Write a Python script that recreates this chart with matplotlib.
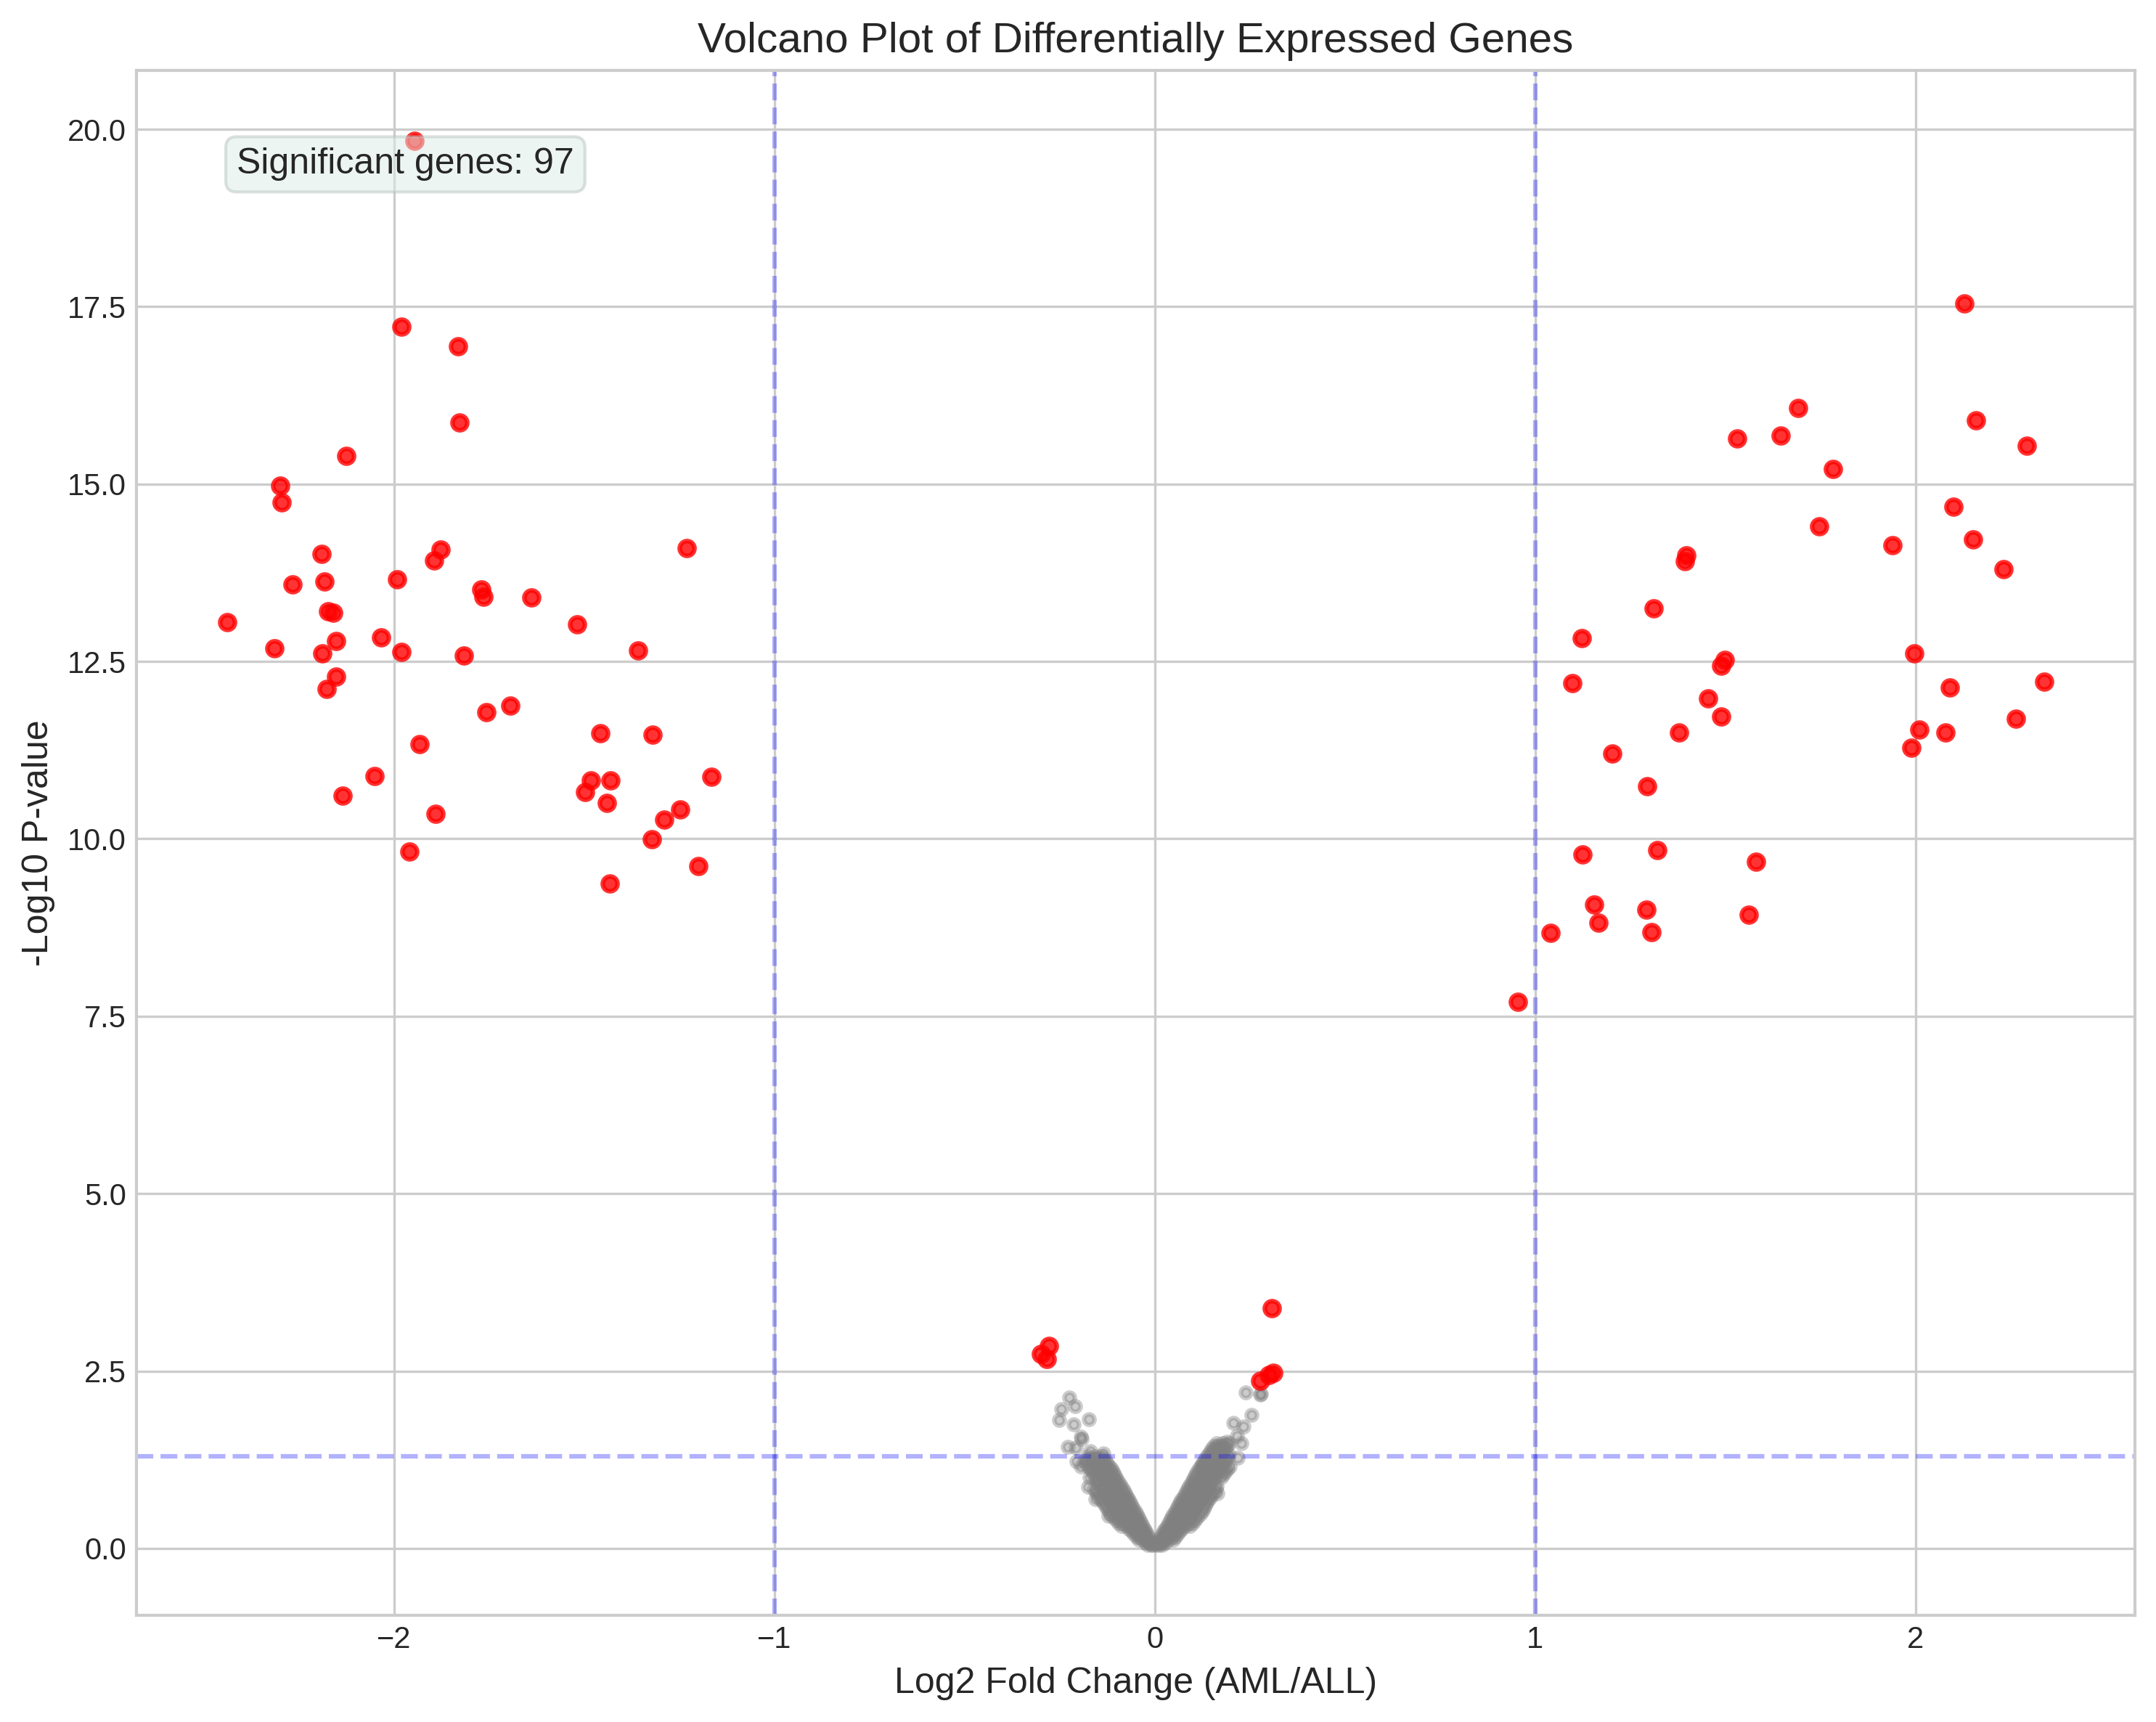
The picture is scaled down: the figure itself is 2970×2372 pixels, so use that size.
#!/usr/bin/env python3
"""Volcano plot of differentially expressed genes (AML vs ALL)."""

import matplotlib
matplotlib.use("Agg")
import numpy as np
import matplotlib.pyplot as plt

# significant genes: (log2 fold change, -log10 p)
sig_left = [
    (-1.947, 19.84), (-1.980, 17.22), (-1.831, 16.94), (-1.829, 15.87), (-2.125, 15.40),
    (-2.299, 14.98), (-2.295, 14.74), (-2.190, 14.02), (-1.877, 14.08), (-1.231, 14.10),
    (-1.894, 13.92), (-1.993, 13.66), (-2.184, 13.63), (-2.268, 13.59), (-1.770, 13.51),
    (-1.766, 13.41), (-1.640, 13.40), (-2.174, 13.21), (-2.161, 13.19), (-2.438, 13.05),
    (-1.519, 13.02), (-2.034, 12.84), (-2.152, 12.79), (-2.314, 12.69), (-1.358, 12.66),
    (-2.188, 12.61), (-1.980, 12.63), (-1.816, 12.58), (-2.153, 12.29), (-2.178, 12.11),
    (-1.694, 11.88), (-1.758, 11.79), (-1.458, 11.49), (-1.320, 11.47), (-1.933, 11.34),
    (-2.052, 10.88), (-1.166, 10.87), (-1.483, 10.82), (-1.431, 10.82), (-1.498, 10.66),
    (-2.136, 10.61), (-1.441, 10.51), (-1.247, 10.41), (-1.290, 10.27), (-1.892, 10.35),
    (-1.322, 9.99), (-1.959, 9.82), (-1.200, 9.62), (-1.433, 9.37),
]
sig_right = [
    (2.128, 17.55), (1.691, 16.07), (1.531, 15.64), (1.645, 15.68), (2.160, 15.90),
    (2.292, 15.54), (1.783, 15.21), (2.101, 14.68), (1.747, 14.40), (1.940, 14.14),
    (2.151, 14.22), (1.398, 14.00), (1.394, 13.91), (2.232, 13.80), (1.311, 13.25),
    (1.122, 12.83), (1.997, 12.61), (1.499, 12.52), (1.489, 12.44), (1.098, 12.19),
    (2.091, 12.13), (2.338, 12.21), (1.455, 11.98), (1.490, 11.72), (2.264, 11.69),
    (2.010, 11.54), (2.079, 11.50), (1.378, 11.50), (1.989, 11.28), (1.203, 11.20),
    (1.295, 10.74), (1.124, 9.78), (1.321, 9.84), (1.581, 9.68), (1.155, 9.07),
    (1.293, 9.00), (1.562, 8.93), (1.166, 8.82), (1.040, 8.68), (1.307, 8.69),
    (0.954, 7.70),
]
sig_center = [
    (-0.278, 2.85), (-0.300, 2.74), (-0.284, 2.67),
    (0.307, 3.39), (0.311, 2.48), (0.301, 2.44), (0.278, 2.36),
]

# non-significant genes (dense V near the origin)
gray_left = [
    (-0.005, 0.05), (-0.010, 0.05), (-0.018, 0.05),
    (-0.008, 0.08), (-0.015, 0.08), (-0.025, 0.08),
    (-0.012, 0.12), (-0.020, 0.12), (-0.030, 0.12), (-0.042, 0.12),
    (-0.016, 0.16), (-0.025, 0.16), (-0.036, 0.16), (-0.048, 0.16),
    (-0.020, 0.20), (-0.030, 0.20), (-0.042, 0.20), (-0.055, 0.20),
    (-0.024, 0.24), (-0.035, 0.24), (-0.047, 0.24), (-0.060, 0.24),
    (-0.028, 0.28), (-0.040, 0.28), (-0.053, 0.28), (-0.068, 0.28),
    (-0.032, 0.32), (-0.045, 0.32), (-0.058, 0.32), (-0.073, 0.32), (-0.088, 0.32),
    (-0.036, 0.36), (-0.050, 0.36), (-0.064, 0.36), (-0.080, 0.36), (-0.095, 0.36),
    (-0.040, 0.40), (-0.054, 0.40), (-0.069, 0.40), (-0.085, 0.40), (-0.100, 0.40),
    (-0.044, 0.44), (-0.058, 0.44), (-0.074, 0.44), (-0.090, 0.44), (-0.108, 0.44),
    (-0.048, 0.48), (-0.062, 0.48), (-0.078, 0.48), (-0.095, 0.48), (-0.114, 0.48),
    (-0.052, 0.52), (-0.066, 0.52), (-0.082, 0.52), (-0.100, 0.52), (-0.120, 0.52),
    (-0.056, 0.56), (-0.070, 0.56), (-0.087, 0.56), (-0.105, 0.56), (-0.125, 0.56),
    (-0.060, 0.60), (-0.075, 0.60), (-0.092, 0.60), (-0.110, 0.60), (-0.130, 0.60),
    (-0.064, 0.64), (-0.079, 0.64), (-0.096, 0.64), (-0.114, 0.64), (-0.135, 0.64),
    (-0.068, 0.68), (-0.084, 0.68), (-0.100, 0.68), (-0.118, 0.68), (-0.140, 0.68),
    (-0.072, 0.72), (-0.088, 0.72), (-0.105, 0.72), (-0.123, 0.72), (-0.145, 0.72),
    (-0.076, 0.76), (-0.092, 0.76), (-0.110, 0.76), (-0.128, 0.76), (-0.150, 0.76),
    (-0.080, 0.80), (-0.096, 0.80), (-0.114, 0.80), (-0.133, 0.80), (-0.155, 0.80),
    (-0.084, 0.84), (-0.100, 0.84), (-0.118, 0.84), (-0.138, 0.84), (-0.160, 0.84),
    (-0.089, 0.88), (-0.105, 0.88), (-0.123, 0.88), (-0.143, 0.88),
    (-0.094, 0.92), (-0.110, 0.92), (-0.128, 0.92), (-0.148, 0.92),
    (-0.098, 0.96), (-0.114, 0.96), (-0.132, 0.96), (-0.152, 0.96),
    (-0.102, 1.00), (-0.118, 1.00), (-0.136, 1.00), (-0.156, 1.00), (-0.172, 1.00),
    (-0.106, 1.04), (-0.122, 1.04), (-0.140, 1.04), (-0.160, 1.04),
    (-0.110, 1.08), (-0.126, 1.08), (-0.144, 1.08), (-0.164, 1.08),
    (-0.115, 1.12), (-0.131, 1.12), (-0.149, 1.12), (-0.170, 1.12),
    (-0.120, 1.16), (-0.136, 1.16), (-0.154, 1.16), (-0.175, 1.16), (-0.195, 1.16),
    (-0.125, 1.20), (-0.141, 1.20), (-0.160, 1.20), (-0.180, 1.20),
    (-0.130, 1.24), (-0.146, 1.24), (-0.165, 1.24), (-0.185, 1.24),
    (-0.135, 1.27), (-0.152, 1.27), (-0.170, 1.27),
    (-0.140, 1.30), (-0.158, 1.30), (-0.176, 1.30),
    (-0.224, 2.13), (-0.245, 1.96), (-0.210, 2.00), (-0.252, 1.81), (-0.214, 1.75),
    (-0.173, 1.82), (-0.194, 1.57), (-0.192, 1.54), (-0.228, 1.43), (-0.208, 1.42),
    (-0.169, 1.37), (-0.135, 1.34), (-0.205, 1.23), (-0.131, 1.14), (-0.109, 0.95),
    (-0.176, 0.87), (-0.157, 0.70), (-0.122, 0.46), (-0.049, 0.39),
]
gray_right = [
    (0.005, 0.05), (0.012, 0.05), (0.020, 0.05),
    (0.008, 0.08), (0.016, 0.08), (0.027, 0.08),
    (0.012, 0.12), (0.022, 0.12), (0.034, 0.12), (0.048, 0.12),
    (0.016, 0.16), (0.027, 0.16), (0.040, 0.16), (0.054, 0.16),
    (0.020, 0.20), (0.032, 0.20), (0.045, 0.20), (0.060, 0.20),
    (0.024, 0.24), (0.037, 0.24), (0.050, 0.24), (0.066, 0.24),
    (0.028, 0.28), (0.042, 0.28), (0.056, 0.28), (0.072, 0.28),
    (0.032, 0.32), (0.046, 0.32), (0.061, 0.32), (0.078, 0.32), (0.092, 0.32),
    (0.036, 0.36), (0.050, 0.36), (0.066, 0.36), (0.084, 0.36), (0.100, 0.36),
    (0.040, 0.40), (0.054, 0.40), (0.070, 0.40), (0.088, 0.40), (0.106, 0.40),
    (0.044, 0.44), (0.058, 0.44), (0.074, 0.44), (0.092, 0.44), (0.112, 0.44),
    (0.049, 0.48), (0.063, 0.48), (0.079, 0.48), (0.097, 0.48), (0.118, 0.48),
    (0.054, 0.52), (0.068, 0.52), (0.084, 0.52), (0.102, 0.52), (0.124, 0.52),
    (0.058, 0.56), (0.072, 0.56), (0.088, 0.56), (0.106, 0.56), (0.128, 0.56),
    (0.062, 0.60), (0.076, 0.60), (0.092, 0.60), (0.110, 0.60), (0.132, 0.60),
    (0.066, 0.64), (0.081, 0.64), (0.097, 0.64), (0.115, 0.64), (0.136, 0.64),
    (0.070, 0.68), (0.086, 0.68), (0.102, 0.68), (0.120, 0.68), (0.140, 0.68),
    (0.074, 0.72), (0.090, 0.72), (0.106, 0.72), (0.124, 0.72), (0.145, 0.72),
    (0.078, 0.76), (0.094, 0.76), (0.110, 0.76), (0.128, 0.76), (0.150, 0.76),
    (0.082, 0.80), (0.098, 0.80), (0.114, 0.80), (0.132, 0.80), (0.155, 0.80),
    (0.086, 0.84), (0.102, 0.84), (0.118, 0.84), (0.136, 0.84), (0.160, 0.84),
    (0.091, 0.88), (0.107, 0.88), (0.123, 0.88), (0.141, 0.88), (0.162, 0.88),
    (0.096, 0.92), (0.112, 0.92), (0.128, 0.92), (0.146, 0.92),
    (0.100, 0.96), (0.116, 0.96), (0.133, 0.96), (0.152, 0.96),
    (0.104, 1.00), (0.120, 1.00), (0.138, 1.00), (0.158, 1.00), (0.175, 1.00),
    (0.108, 1.04), (0.124, 1.04), (0.142, 1.04), (0.162, 1.04), (0.180, 1.04),
    (0.112, 1.08), (0.128, 1.08), (0.146, 1.08), (0.166, 1.08), (0.186, 1.08),
    (0.116, 1.12), (0.133, 1.12), (0.151, 1.12), (0.171, 1.12), (0.192, 1.12),
    (0.120, 1.16), (0.138, 1.16), (0.156, 1.16), (0.176, 1.16), (0.198, 1.16),
    (0.125, 1.20), (0.143, 1.20), (0.161, 1.20), (0.181, 1.20),
    (0.130, 1.24), (0.148, 1.24), (0.166, 1.24), (0.186, 1.24),
    (0.135, 1.28), (0.152, 1.28), (0.170, 1.28), (0.190, 1.28),
    (0.140, 1.32), (0.156, 1.32), (0.175, 1.32), (0.195, 1.32),
    (0.145, 1.36), (0.161, 1.36), (0.180, 1.36),
    (0.150, 1.40), (0.166, 1.40), (0.185, 1.40),
    (0.156, 1.44), (0.172, 1.44), (0.190, 1.44),
    (0.162, 1.48), (0.178, 1.48), (0.195, 1.48),
    (0.240, 2.20), (0.278, 2.17), (0.279, 2.18), (0.255, 1.88), (0.206, 1.77),
    (0.233, 1.72), (0.217, 1.59), (0.228, 1.48), (0.219, 1.28), (0.190, 1.50),
    (0.164, 1.43), (0.126, 1.19), (0.164, 0.78),
]

FC_CUT = 1.0
P_CUT = 0.05

plt.style.use("seaborn-v0_8-whitegrid")
plt.rcParams["font.family"] = ["Liberation Sans", "DejaVu Sans"]

sig = np.array(sig_left + sig_right + sig_center)
gray = np.array(gray_left + gray_right)

fig, ax = plt.subplots(figsize=(10, 8))

ax.scatter(gray[:, 0], gray[:, 1], color="gray", alpha=0.4, s=12,
           edgecolors="face", linewidths=1.5)
ax.scatter(sig[:, 0], sig[:, 1], color="red", alpha=0.8, s=24,
           edgecolors="face", linewidths=1.5)

ax.axhline(-np.log10(P_CUT), color="blue", linestyle="--", alpha=0.3)
ax.axvline(-FC_CUT, color="blue", linestyle="--", alpha=0.3)
ax.axvline(FC_CUT, color="blue", linestyle="--", alpha=0.3)

ax.set_title("Volcano Plot of Differentially Expressed Genes", fontsize=14)
ax.set_xlabel("Log2 Fold Change (AML/ALL)", fontsize=12)
ax.set_ylabel("-Log10 P-value", fontsize=12)

ax.text(0.05, 0.95, f"Significant genes: {len(sig)}", transform=ax.transAxes,
        fontsize=12, va="top",
        bbox=dict(boxstyle="round", facecolor="#ddede7", edgecolor="#b8c4c0", alpha=0.5))

for sp in ax.spines.values():
    sp.set_visible(True)
    sp.set_color("#cccccc")

plt.tight_layout()
plt.savefig("out.png", dpi=300, bbox_inches="tight")
plt.close()
